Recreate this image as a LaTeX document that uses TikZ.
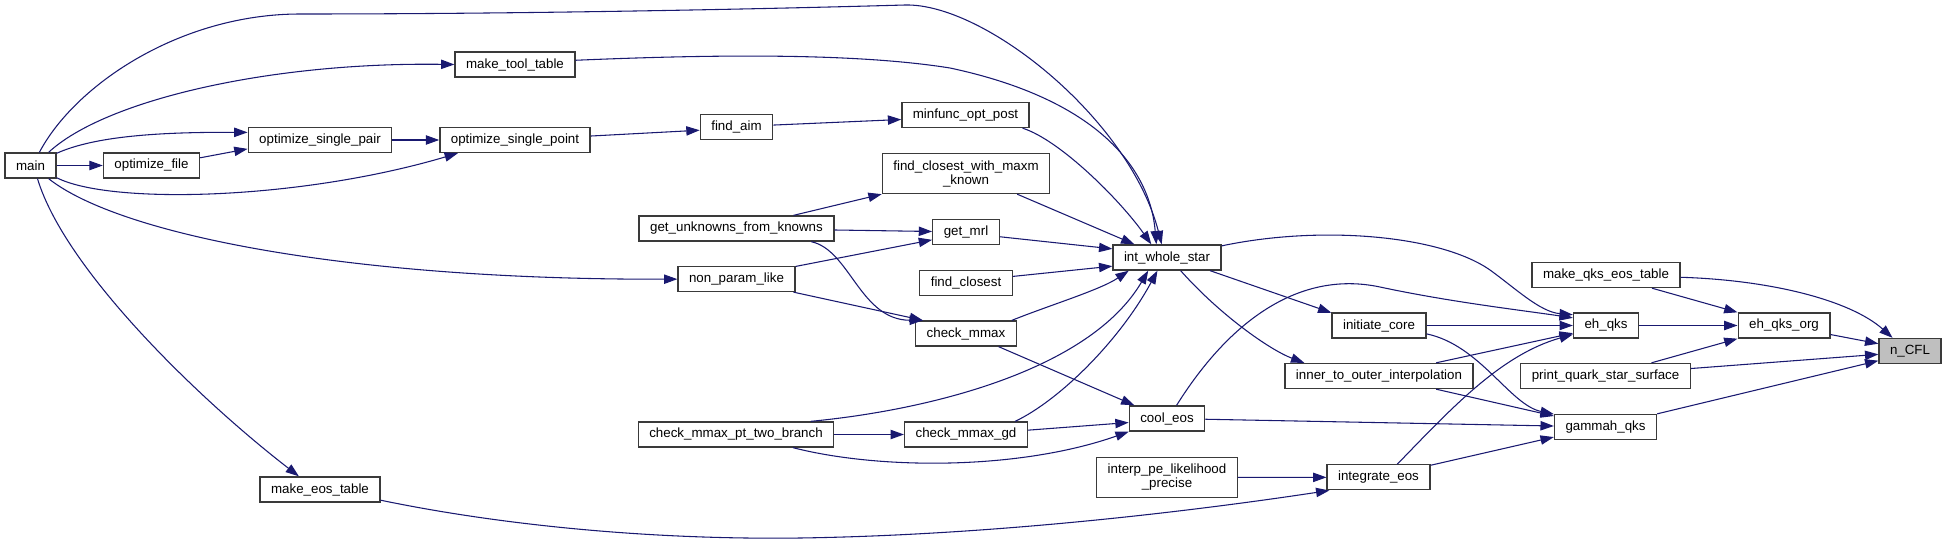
\documentclass[tikz,border=0pt]{standalone}
\usepackage{fontspec}
\setmainfont{Liberation Sans}
\usetikzlibrary{positioning, arrows.meta}
\definecolor{edgeblue}{HTML}{191970}
\definecolor{boxline}{HTML}{3A3A3A}
\definecolor{boxgray}{HTML}{BFBFBF}

\begin{document}
\begin{tikzpicture}[x=0.75pt, y=-0.75pt, line width=0.8pt,
    fn/.style={draw=boxline, line width=1pt, fill=white, inner xsep=8.25pt, inner ysep=0pt,
               minimum height=18.75pt, align=center, font=\fontsize{10}{10.5}\selectfont},
    fn2/.style={fn, minimum height=30pt},
    call/.style={edgeblue, -{Triangle[length=10pt, width=7pt]}}]
    \useasboundingbox (0,0) rectangle (1947,542);

    \node[fn] (main)        at (30.5,165.5)  {main};
    \node[fn] (optfile)     at (151.5,165.5) {optimize\_file};
    \node[fn] (optpair)     at (320,140)     {optimize\_single\_pair};
    \node[fn] (optpoint)    at (515,140)     {optimize\_single\_point};
    \node[fn] (tooltable)   at (515,64.5)    {make\_tool\_table};
    \node[fn] (eostable)    at (320,489.5)   {make\_eos\_table};
    \node[fn] (findaim)     at (736.5,127)   {find\_aim};
    \node[fn] (unknowns)    at (736.5,228.5) {get\_unknowns\_from\_knowns};
    \node[fn] (nonparam)    at (736.5,279)   {non\_param\_like};
    \node[fn] (twobranch)   at (736,434.5)   {check\_mmax\_pt\_two\_branch};
    \node[fn] (minfunc)     at (965.5,115)   {minfunc\_opt\_post};
    \node[fn2] (closestmaxm) at (966,173.5)  {find\_closest\_with\_maxm\\\_known};
    \node[fn] (mrl)         at (966,232)     {get\_mrl};
    \node[fn] (closest)     at (966,283)     {find\_closest};
    \node[fn] (mmax)        at (966,333.5)   {check\_mmax};
    \node[fn] (mmaxgd)      at (966,434.5)   {check\_mmax\_gd};
    \node[fn] (whole)       at (1167,257.5)  {int\_whole\_star};
    \node[fn] (cooleos)     at (1167,418.5)  {cool\_eos};
    \node[fn2] (interp)     at (1167,477.5)  {interp\_pe\_likelihood\\\_precise};
    \node[fn] (initcore)    at (1379,325.5)  {initiate\_core};
    \node[fn] (innerouter)  at (1379,376)    {inner\_to\_outer\_interpolation};
    \node[fn] (integrate)   at (1378.5,477.3) {integrate\_eos};
    \node[fn] (qkstable)    at (1606,275)    {make\_qks\_eos\_table};
    \node[fn] (ehqks)       at (1606,325.5)  {eh\_qks};
    \node[fn] (printsurf)   at (1605.5,376)  {print\_quark\_star\_surface};
    \node[fn] (gammah)      at (1605.5,427)  {gammah\_qks};
    \node[fn] (ehorg)       at (1784,325.5)  {eh\_qks\_org};
    \node[fn, fill=boxgray] (ncfl) at (1910,351) {n\_CFL};

    \draw[call] (main.56) .. controls (75,85) and (180,14) .. (300,14)
        .. controls (550,14) and (800,8) .. (905,5)
        .. controls (985,3) and (1130,120) .. (whole.112);
    \draw[call] (main.36) .. controls (105,100) and (270,62) .. (tooltable.west);
    \draw[call] (main.25) .. controls (95,136) and (160,132) .. (optpair.174);
    \draw[call] (main) -- (optfile);
    \draw[call] (main.-25) .. controls (110,205) and (300,200) .. (optpoint.193);
    \draw[call] (main.-36) .. controls (120,235) and (350,280) .. (nonparam);
    \draw[call] (main.-62) .. controls (65,270) and (200,400) .. (eostable.148);
    \draw[call] (optfile.9) -- (optpair.187);
    \draw[call] (optpair) -- (optpoint);
    \draw[call] (optpoint.3) -- (findaim.185);
    \draw[call] (tooltable.4) .. controls (700,55) and (850,52) .. (950,68)
        .. controls (1100,100) and (1150,170) .. (whole.129);
    \draw[call] (findaim.3) -- (minfunc.184);
    \draw[call] (minfunc.-13) .. controls (1060,140) and (1120,200) .. (whole.140);
    \draw[call] (unknowns.13) -- (closestmaxm.south west);
    \draw[call] (unknowns) -- (mrl);
    \draw[call] (unknowns.-10) .. controls (850,250) and (860,320) .. (mmax.163);
    \draw[call] (nonparam.12) -- (mrl.193);
    \draw[call] (nonparam.-13) -- (mmax.163);
    \draw[call] (closestmaxm.-22) -- (whole.158);
    \draw[call] (mrl.-8) -- (whole.171);
    \draw[call] (closest.8) -- (whole.189);
    \draw[call] (mmax.16) .. controls (1050,305) and (1100,290) .. (whole.199);
    \draw[call] (mmax.-22) -- (cooleos.158);
    \draw[call] (twobranch.10) .. controls (930,410) and (1090,370) .. (whole.215);
    \draw[call] (twobranch) -- (mmaxgd);
    \draw[call] (twobranch.-13) .. controls (880,470) and (1020,470) .. (cooleos.199);
    \draw[call] (mmaxgd.15) .. controls (1060,400) and (1120,340) .. (whole.234);
    \draw[call] (mmaxgd.4) -- (cooleos.186);
    \draw[call] (eostable.-10) .. controls (500,525) and (650,540) .. (800,538)
        .. controls (1000,535) and (1200,510) .. (integrate.195);
    \draw[call] (interp) -- (integrate);
    \draw[call] (whole.12) .. controls (1320,225) and (1440,235) .. (1490,270)
        .. controls (1515,288) and (1540,312) .. (ehqks.162);
    \draw[call] (whole.-17) -- (initcore.165);
    \draw[call] (whole.-44) .. controls (1220,315) and (1270,350) .. (innerouter.170);
    \draw[call] (cooleos.54) .. controls (1230,320) and (1300,270) .. (1380,287)
        .. controls (1450,302) and (1520,310) .. (ehqks.167);
    \draw[call] (cooleos) -- (gammah);
    \draw[call] (initcore) -- (ehqks);
    \draw[call] (initcore.-10) .. controls (1480,345) and (1510,405) .. (gammah.166);
    \draw[call] (innerouter.13) -- (ehqks.193);
    \draw[call] (innerouter.-13) -- (gammah.168);
    \draw[call] (integrate.35) .. controls (1450,410) and (1500,355) .. (ehqks.195);
    \draw[call] (integrate.13) -- (gammah.191);
    \draw[call] (qkstable.-16) -- (ehorg.north west);
    \draw[call] (qkstable) .. controls (1770,280) and (1850,300) .. (ncfl.143);
    \draw[call] (ehqks) -- (ehorg);
    \draw[call] (printsurf.16) -- (ehorg.south west);
    \draw[call] (printsurf.5) -- (ncfl.186);
    \draw[call] (ehorg.-11) -- (ncfl.167);
    \draw[call] (gammah.north east) -- (ncfl.197);
\end{tikzpicture}
\end{document}
